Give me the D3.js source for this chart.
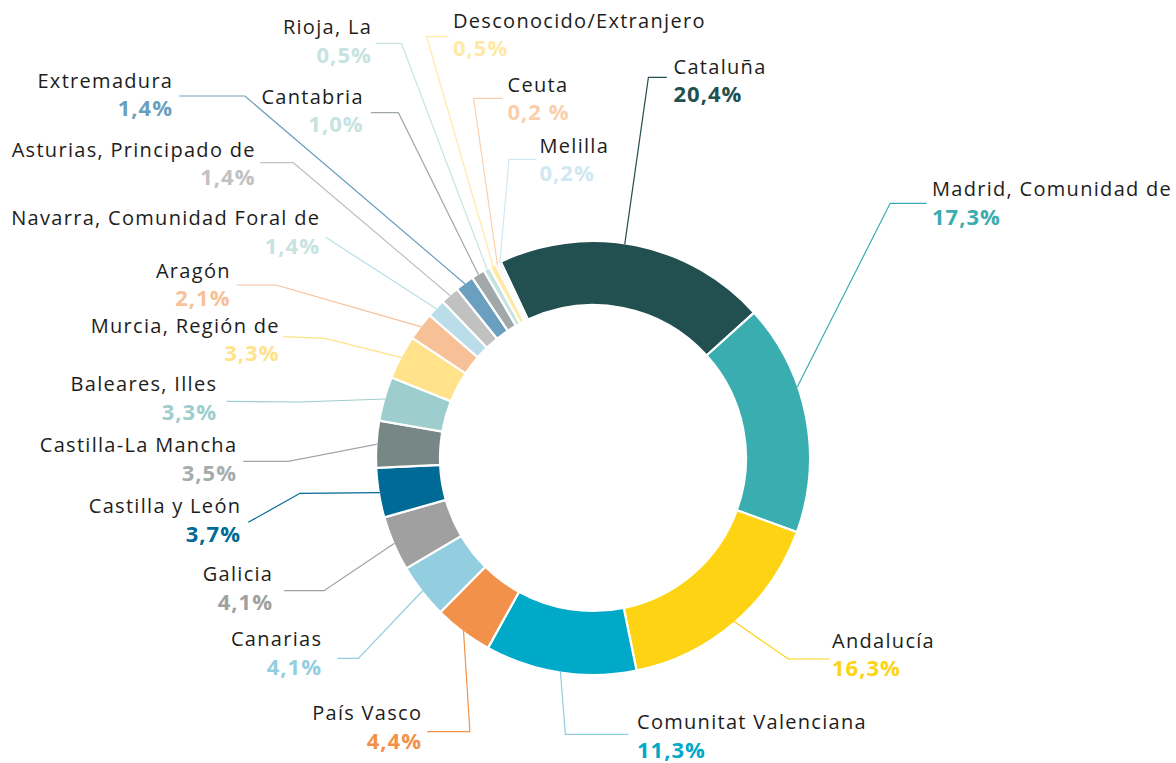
<!DOCTYPE html>
<html><head><meta charset="utf-8">
<script src="https://cdn.jsdelivr.net/npm/d3@7"></script>
<style>
html,body{margin:0;padding:0;background:#fff;}
svg{display:block;}
</style></head><body>
<svg id="chart" width="1176" height="763"></svg>
<script>
// ---------- data ----------
const regions = ["Cataluña","Madrid, Comunidad de","Andalucía","Comunitat Valenciana","País Vasco","Canarias","Galicia","Castilla y León","Castilla-La Mancha","Baleares, Illes","Murcia, Región de","Aragón","Navarra, Comunidad Foral de","Asturias, Principado de","Extremadura","Cantabria","Rioja, La","Desconocido/Extranjero","Ceuta","Melilla"];
const shares = [20.4,17.3,16.3,11.3,4.4,4.1,4.1,3.7,3.5,3.3,3.3,2.1,1.4,1.4,1.4,1.0,0.5,0.5,0.2,0.2];
const shareLabels = ["20,4%","17,3%","16,3%","11,3%","4,4%","4,1%","4,1%","3,7%","3,5%","3,3%","3,3%","2,1%","1,4%","1,4%","1,4%","1,0%","0,5%","0,5%","0,2 %","0,2%"];

// ---------- styles ----------
const sliceColors = ["#224f50","#3aadb0","#fdd313","#00a9c8","#f2924a","#93cde0","#a0a0a0","#006a97","#778785","#9ecdcd","#ffe28a","#f8c097","#badde9","#c2c1c2","#6a9fc0","#a0a8aa","#c6e3e0","#ffe9a6","#fbcfac","#cfe8f2"];
const valueColors = ["#224f50","#3aadb0","#fdd313","#00a9c8","#f2924a","#93cde0","#a0a0a0","#006a97","#a4acac","#9ecdcd","#ffe28a","#f8c097","#c6e3e0","#c2c1c2","#6a9fc0","#c6e3e0","#c6e3e0","#ffe9a6","#fbcfac","#cfe8f2"];
const lineColors = ["#224f50","#3aadb0","#fdd313","#93cde0","#f2924a","#93cde0","#a0a0a0","#006a97","#a0a8aa","#9ecdcd","#ffe28a","#f8c097","#badde9","#c2c1c2","#6a9fc0","#a0a8aa","#c6e3e0","#ffe9a6","#fbcfac","#cfe8f2"];

// ---------- layout (label anchors & leader elbows) ----------
const labelLayout = [
  {anchor:"start", x:673.5, y:67.5,  t:0.46, path:[[648.4,77.3],[666.8,77.3]]},
  {anchor:"start", x:932,   y:190,   t:0.37, path:[[890.2,203.3],[926.7,203.3]]},
  {anchor:"start", x:832,   y:641.5, t:0.5,  path:[[788.3,659],[829.5,659]]},
  {anchor:"start", x:637,   y:723,   t:0.5,  path:[[565.4,734.3],[628.4,734.3]]},
  {anchor:"end",   x:421,   y:714,   t:0.5,  path:[[469.9,731.7],[427.2,731.7]]},
  {anchor:"end",   x:321,   y:640,   t:0.5,  path:[[358.4,658.3],[337.5,658.3]]},
  {anchor:"end",   x:272,   y:575,   t:0.5,  path:[[324,590.7],[284.2,590.7]]},
  {anchor:"end",   x:240,   y:507.3, t:0.5,  path:[[300,493.3],[248.3,522.3]]},
  {anchor:"end",   x:236,   y:446,   t:0.5,  path:[[288.3,461.3],[243.3,461.3]]},
  {anchor:"end",   x:216,   y:385,   t:0.5,  path:[[300,402],[226.7,401.3]]},
  {anchor:"end",   x:278.5, y:326.7, t:0.5,  path:[[325,338.3],[283.3,336.7]]},
  {anchor:"end",   x:229.5, y:271.7, t:0.5,  path:[[276,285],[236.7,285]]},
  {anchor:"end",   x:319,   y:219,   t:0.5,  path:[[325.7,237.3]]},
  {anchor:"end",   x:254.5, y:150.7, t:0.5,  path:[[293.3,162.7],[260.3,162.7]]},
  {anchor:"end",   x:172,   y:81.7,  t:0.5,  path:[[244.8,96],[179.4,96]]},
  {anchor:"end",   x:362.6, y:97.7,  t:0.5,  path:[[398.4,112.7],[370.8,112.7]]},
  {anchor:"end",   x:370.8, y:28.3,  t:0.5,  path:[[401.4,43.3],[375.7,43.3]]},
  {anchor:"start", x:453,   y:21.7,  t:0.5,  path:[[426.6,36.7],[448.4,36.7]]},
  {anchor:"start", x:507.5, y:85.7,  t:0.5,  path:[[473.6,98.3],[502.7,98.3]]},
  {anchor:"start", x:539.5, y:146.7, t:0.5,  path:[[509,159.3],[535.6,159.3]]}
];

const W = 1176, H = 763;
const cx = 593, cy = 458, rOuter = 217, rInner = 153;
const startDeg = -25.2;
const nameFont = 20, valueFont = 22, lineGap = 27.7;
const nameSpacing = 1.3, valueSpacing = 1.0;

const svg = d3.select("#chart");
svg.append("rect").attr("width", W).attr("height", H).attr("fill", "#fff");

const data = regions.map((r, i) => ({name: r, value: shares[i], label: shareLabels[i], i}));
const a0 = startDeg * Math.PI / 180;
const pie = d3.pie().sort(null).value(d => d.value).startAngle(a0).endAngle(a0 + 2 * Math.PI);
const arcs = pie(data);
const arc = d3.arc().innerRadius(rInner).outerRadius(rOuter);

const g = svg.append("g").attr("transform", `translate(${cx},${cy})`);

// leader lines (drawn first so the ring covers their ends)
const lineGen = d3.line();
const leaders = svg.append("g").attr("fill", "none");
arcs.forEach((a, i) => {
  const L = labelLayout[i];
  const ang = a.startAngle + L.t * (a.endAngle - a.startAngle);
  const p0 = [cx + (rOuter - 1) * Math.sin(ang), cy - (rOuter - 1) * Math.cos(ang)];
  leaders.append("path")
    .attr("d", lineGen([p0, ...L.path]))
    .attr("stroke", lineColors[i])
    .attr("stroke-width", 1.2);
});

g.selectAll("path.slice").data(arcs).join("path")
  .attr("class", "slice")
  .attr("d", arc)
  .attr("fill", d => sliceColors[d.data.i])
  .attr("stroke", "#fff")
  .attr("stroke-width", 2.2)
  .attr("stroke-linejoin", "miter");

// labels
const labels = svg.append("g");
arcs.forEach((a, i) => {
  const L = labelLayout[i];
  const isEnd = L.anchor === "end";
  labels.append("text")
    .attr("x", isEnd ? L.x + nameSpacing : L.x).attr("y", L.y + 6)
    .attr("text-anchor", L.anchor)
    .attr("font-family", "'Open Sans', sans-serif")
    .attr("font-size", nameFont)
    .attr("letter-spacing", nameSpacing)
    .attr("fill", "#1d1d1b")
    .text(a.data.name);
  labels.append("text")
    .attr("x", isEnd ? L.x + valueSpacing : L.x).attr("y", L.y + lineGap + 7)
    .attr("text-anchor", L.anchor)
    .attr("font-family", "'Open Sans', sans-serif")
    .attr("font-weight", 700)
    .attr("font-size", valueFont)
    .attr("letter-spacing", valueSpacing)
    .attr("fill", valueColors[i])
    .text(a.data.label);
});
</script>
</body></html>
